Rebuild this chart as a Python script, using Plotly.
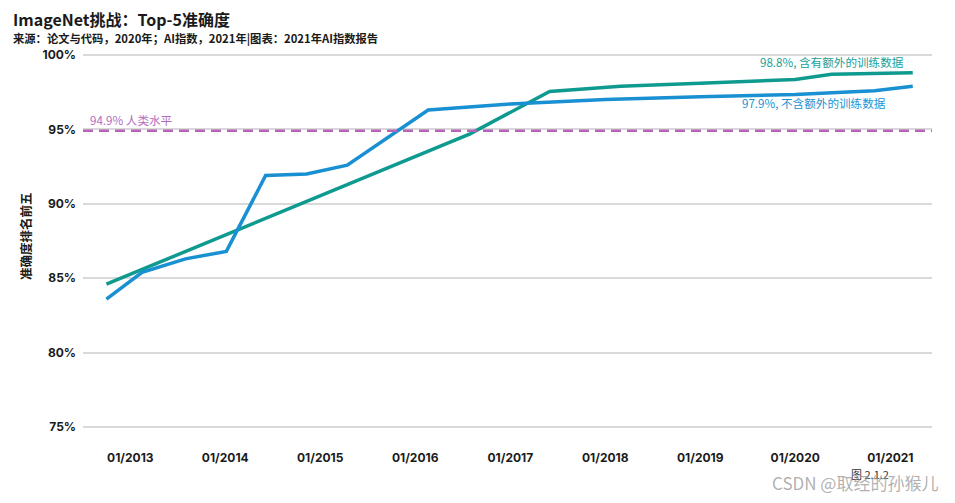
import plotly.graph_objects as go

# Data
dates_without = ["2012-10-01", "2013-02-15", "2013-08-01", "2014-01-05", "2014-06-05",
                 "2014-11-10", "2015-04-15", "2016-02-20", "2017-01-01", "2018-01-01",
                 "2019-01-01", "2020-01-01", "2020-11-01", "2021-03-28"]
acc_without = [83.6, 85.4, 86.3, 86.8, 91.9, 92.0, 92.6, 96.3, 96.7, 97.0,
               97.2, 97.35, 97.6, 97.9]

dates_with = ["2012-10-01", "2016-07-30", "2017-06-01", "2018-03-01", "2019-01-01",
              "2020-01-01", "2020-05-20", "2021-03-28"]
acc_with = [84.6, 94.7, 97.55, 97.9, 98.1, 98.35, 98.7, 98.8]

human_level = 94.9
y_ticks = [75, 80, 85, 90, 95, 100]
y_tick_labels = ["75%", "80%", "85%", "90%", "95%", "100%"]
x_ticks = ["2013-01-01", "2014-01-01", "2015-01-01", "2016-01-01", "2017-01-01",
           "2018-01-01", "2019-01-01", "2020-01-01", "2021-01-01"]

BLUE = "#1890d2"
TEAL = "#0f9a90"
PURPLE = "#b366b8"
CJK = "Noto Sans CJK SC"
NUM = "Inter, Noto Sans CJK SC"

fig = go.Figure()
fig.add_trace(go.Scatter(x=dates_with, y=acc_with, mode="lines",
                         line=dict(color=TEAL, width=3.5), name="含有额外的训练数据"))
fig.add_trace(go.Scatter(x=dates_without, y=acc_without, mode="lines",
                         line=dict(color=BLUE, width=3.5), name="不含额外的训练数据"))

fig.add_hline(y=human_level, line=dict(color=PURPLE, width=2.5, dash="10px,6px"))

annotations = [
    dict(text="ImageNet挑战：Top-5准确度", xref="paper", yref="paper",
         x=-0.0836, y=1.088, xanchor="left", yanchor="middle", showarrow=False,
         borderpad=0,
         font=dict(family=CJK, size=16, color="#1a1a1a", weight=600)),
    dict(text="来源：论文与代码，2020年；AI指数，2021年|图表：2021年AI指数报告",
         xref="paper", yref="paper", x=-0.0836, y=1.037, xanchor="left",
         yanchor="middle", showarrow=False, borderpad=0,
         font=dict(family=CJK, size=11.3, color="#1a1a1a", weight=700)),
    dict(text="准确度排名前五", xref="paper", yref="paper", x=-0.068, y=0.514,
         textangle=-90, showarrow=False, xanchor="center", yanchor="middle",
         font=dict(family=CJK, size=12.5, color="#1a1a1a", weight=700)),
    dict(text=f"{acc_with[-1]}%, 含有额外的训练数据", xref="paper", yref="y",
         x=0.969, y=99.5, xanchor="right", yanchor="middle", showarrow=False,
         font=dict(family=CJK, size=11.6, color="#1a9f98")),
    dict(text=f"{acc_without[-1]}%, 不含额外的训练数据", xref="paper", yref="y",
         x=0.948, y=96.8, xanchor="right", yanchor="middle", showarrow=False,
         font=dict(family=CJK, size=11.6, color="#1a94d4")),
    dict(text=f"{human_level}% 人类水平", xref="paper", yref="y",
         x=0.006, y=95.6, xanchor="left", yanchor="middle", showarrow=False,
         font=dict(family=CJK, size=11.6, color="#b56cbf")),
    dict(text="图 2.1.2", xref="paper", yref="paper", x=0.927, y=-0.1176,
         xanchor="center", yanchor="middle", showarrow=False,
         font=dict(family=CJK, size=11, color="#333333")),
    dict(text="CSDN @取经的孙猴儿", xref="paper", yref="paper", x=1.009, y=-0.1387,
         xanchor="right", yanchor="middle", showarrow=False,
         font=dict(family=CJK, size=17, color="rgba(150,150,150,0.75)")),
]

fig.update_layout(
    width=939, height=487,
    margin=dict(l=75, r=15, t=44, b=64.5),
    paper_bgcolor="white", plot_bgcolor="white",
    showlegend=False,
    annotations=annotations,
    xaxis=dict(type="date", range=["2012-07-03", "2021-06-10"],
               tickvals=x_ticks, tickformat="%m/%Y", showgrid=False,
               zeroline=False, showline=False, ticks="",
               ticklabelstandoff=19,
               tickfont=dict(family=NUM, size=12, color="#1a1a1a", weight=700)),
    yaxis=dict(range=[74.8, 100.2], tickvals=y_ticks, ticktext=y_tick_labels,
               showgrid=True, gridcolor="#d9d9d9", gridwidth=1.5,
               zeroline=False, showline=False, ticks="",
               ticklabelstandoff=6,
               tickfont=dict(family=NUM, size=12, color="#1a1a1a", weight=700)),
)

fig.write_html("out.html")
